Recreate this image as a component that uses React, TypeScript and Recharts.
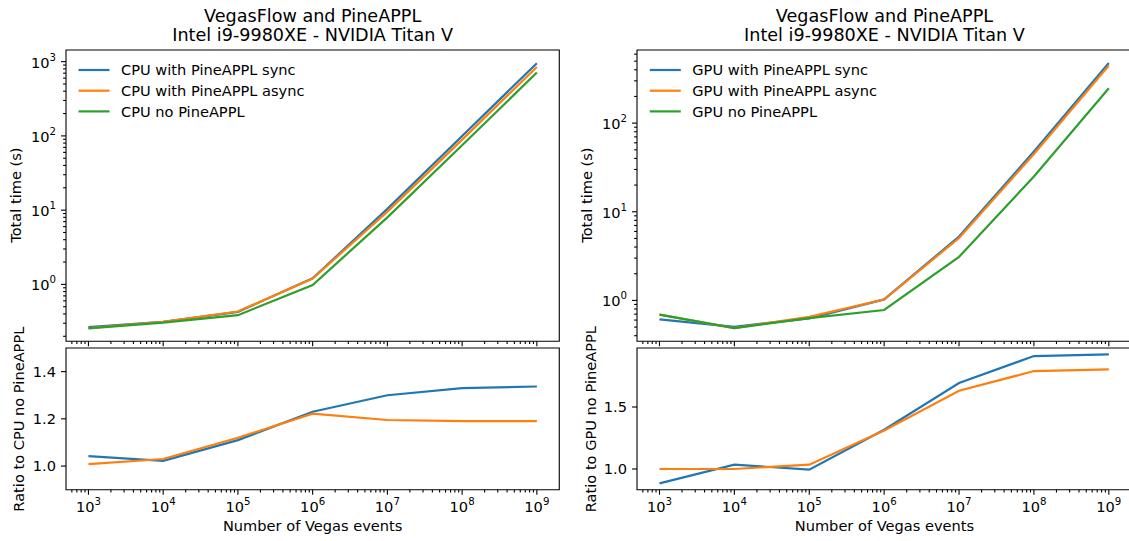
import React from 'react'
import { LineChart, Line, XAxis, YAxis, ReferenceArea } from 'recharts'

const FONT = '"DejaVu Sans", Verdana, sans-serif'
const BLUE = '#1f77b4'
const ORANGE = '#ff7f0e'
const GREEN = '#2ca02c'

// number of Vegas events (x)
const events = [1e3, 1e4, 1e5, 1e6, 1e7, 1e8, 1e9]

// CPU, total time in seconds
const cpuSync = [0.266, 0.312, 0.427, 1.205, 10.4, 99.7, 953]
const cpuAsync = [0.257, 0.314, 0.431, 1.198, 9.56, 89.2, 848]
const cpuNone = [0.255, 0.305, 0.385, 0.98, 8.0, 75, 713]
// CPU, ratio to no PineAPPL
const cpuRatioSync = [1.042, 1.022, 1.11, 1.23, 1.3, 1.33, 1.337]
const cpuRatioAsync = [1.008, 1.03, 1.12, 1.222, 1.195, 1.19, 1.19]

// GPU, total time in seconds
const gpuSync = [0.61, 0.504, 0.627, 1.027, 5.25, 47.8, 477]
const gpuAsync = [0.69, 0.487, 0.652, 1.022, 5.06, 44.8, 447]
const gpuNone = [0.69, 0.487, 0.63, 0.78, 3.1, 25, 248]
// GPU, ratio to no PineAPPL
const gpuRatioSync = [0.884, 1.035, 0.995, 1.317, 1.694, 1.911, 1.924]
const gpuRatioAsync = [1.0, 1.0, 1.035, 1.31, 1.631, 1.79, 1.803]

const cpuLabels = ['CPU with PineAPPL sync', 'CPU with PineAPPL async', 'CPU no PineAPPL']
const gpuLabels = ['GPU with PineAPPL sync', 'GPU with PineAPPL async', 'GPU no PineAPPL']
const cpuRatioTicks = [1.0, 1.2, 1.4]
const gpuRatioTicks = [1.0, 1.5]

const X_DOMAIN: [number, number] = [Math.pow(10, 2.7), Math.pow(10, 9.3)]
const CPU_TIME_DOMAIN: [number, number] = [Math.pow(10, -0.765), Math.pow(10, 3.157)]
const GPU_TIME_DOMAIN: [number, number] = [Math.pow(10, -0.46), Math.pow(10, 2.825)]
const CPU_RATIO_DOMAIN: [number, number] = [0.9, 1.5]
const GPU_RATIO_DOMAIN: [number, number] = [0.833, 1.976]

// log axis ticks: decades plus 2..9 minors inside the domain
function logTicks([lo, hi]: [number, number]) {
  const out: number[] = []
  for (let e = Math.floor(Math.log10(lo)); e <= Math.ceil(Math.log10(hi)); e++) {
    for (let m = 1; m <= 9; m++) {
      const v = m * Math.pow(10, e)
      if (v >= lo && v <= hi) out.push(v)
    }
  }
  return out
}
const isDecade = (v: number) => Math.abs(Math.log10(v) - Math.round(Math.log10(v))) < 1e-6

const FS = 14.6
const SUP = 10.2
const SW = 1.1

const timeRows = (a: number[], b: number[], c: number[]) =>
  events.map((n, i) => ({ n, sync: a[i], async: b[i], none: c[i] }))
const ratioRows = (a: number[], b: number[]) => events.map((n, i) => ({ n, sync: a[i], async: b[i] }))

const cpuTime = timeRows(cpuSync, cpuAsync, cpuNone)
const gpuTime = timeRows(gpuSync, gpuAsync, gpuNone)
const cpuRatio = ratioRows(cpuRatioSync, cpuRatioAsync)
const gpuRatio = ratioRows(gpuRatioSync, gpuRatioAsync)

type Frame = { x0: number; x1: number; y0: number; y1: number }

const LEFT_X = { x0: 66, x1: 559.3 }
const RIGHT_X = { x0: 637.3, x1: 1131.6 }
const TOP_Y = { y0: 49.5, y1: 340.7 }
const BOT_Y = { y0: 348.3, y1: 490 }

function XTick(props: any) {
  const { x, y, payload, showLabel } = props
  const v = payload.value
  const major = isDecade(v)
  return (
    <g>
      <line x1={x} x2={x} y1={y} y2={y + (major ? 5 : 2.9)} stroke="#000" strokeWidth={SW} />
      {major && showLabel && (
        <text x={x} y={y + 22.5} textAnchor="middle" fontSize={FS} fontFamily={FONT} fill="#000">
          10
          <tspan dy={-7} fontSize={SUP}>
            {Math.round(Math.log10(v))}
          </tspan>
        </text>
      )}
    </g>
  )
}

function YLogTick(props: any) {
  const { x, y, payload } = props
  const v = payload.value
  const major = isDecade(v)
  return (
    <g>
      <line x1={x} x2={x - (major ? 5 : 2.9)} y1={y} y2={y} stroke="#000" strokeWidth={SW} />
      {major && (
        <text x={x - 10} y={y + 6} textAnchor="end" fontSize={FS} fontFamily={FONT} fill="#000">
          10
          <tspan dy={-7} fontSize={SUP}>
            {Math.round(Math.log10(v))}
          </tspan>
        </text>
      )}
    </g>
  )
}

function YLinTick(props: any) {
  const { x, y, payload } = props
  return (
    <g>
      <line x1={x} x2={x - 5} y1={y} y2={y} stroke="#000" strokeWidth={SW} />
      <text x={x - 10} y={y + 5.2} textAnchor="end" fontSize={FS} fontFamily={FONT} fill="#000">
        {payload.value.toFixed(1)}
      </text>
    </g>
  )
}

interface PanelProps {
  frame: Frame
  data: any[]
  keys: { key: string; color: string }[]
  log: boolean
  yDomain: [number, number]
  yTicks: number[]
  showXLabels: boolean
}

function Panel({ frame, data, keys, log, yDomain, yTicks, showXLabels }: PanelProps) {
  const AXW = 70
  const PAD = 6
  const AXH = showXLabels ? 34 : 10
  const w = frame.x1 - frame.x0
  const h = frame.y1 - frame.y0
  return (
    <div style={{ position: 'absolute', left: frame.x0 - AXW, top: frame.y0 - PAD }}>
      <LineChart
        width={w + AXW + PAD}
        height={h + PAD + AXH}
        data={data}
        margin={{ top: PAD, right: PAD, bottom: 0, left: 0 }}
      >
        <XAxis
          dataKey="n"
          type="number"
          scale="log"
          domain={X_DOMAIN}
          allowDataOverflow
          ticks={logTicks(X_DOMAIN)}
          interval={0}
          tickSize={0}
          tickMargin={0}
          axisLine={false}
          tickLine={false}
          height={AXH}
          tick={(p: any) => <XTick {...p} showLabel={showXLabels} />}
        />
        <YAxis
          type="number"
          scale={log ? 'log' : 'linear'}
          domain={yDomain}
          allowDataOverflow
          ticks={yTicks}
          interval={0}
          tickSize={0}
          tickMargin={0}
          axisLine={false}
          tickLine={false}
          width={AXW}
          tick={(p: any) => (log ? <YLogTick {...p} /> : <YLinTick {...p} />)}
        />
        <ReferenceArea
          x1={X_DOMAIN[0]}
          x2={X_DOMAIN[1]}
          y1={yDomain[0]}
          y2={yDomain[1]}
          fill="none"
          fillOpacity={0}
          stroke="#000"
          strokeWidth={SW}
          ifOverflow="visible"
        />
        {keys.map((k) => (
          <Line
            key={k.key}
            dataKey={k.key}
            type="linear"
            stroke={k.color}
            strokeWidth={2.2}
            dot={false}
            isAnimationActive={false}
          />
        ))}
      </LineChart>
    </div>
  )
}

const timeKeys = [
  { key: 'sync', color: BLUE },
  { key: 'async', color: ORANGE },
  { key: 'none', color: GREEN },
]
const ratioKeys = [
  { key: 'sync', color: BLUE },
  { key: 'async', color: ORANGE },
]

function Legend({ x0, labels }: { x0: number; labels: string[] }) {
  const colors = [BLUE, ORANGE, GREEN]
  const rows = [70, 90.7, 111.4]
  return (
    <g>
      {labels.map((l, i) => (
        <g key={l}>
          <line x1={x0 + 12.5} x2={x0 + 43.5} y1={rows[i]} y2={rows[i]} stroke={colors[i]} strokeWidth={2.2} />
          <text x={x0 + 55} y={rows[i] + 5.3} fontSize={FS} fontFamily={FONT} fill="#000">
            {l}
          </text>
        </g>
      ))}
    </g>
  )
}

function Texts() {
  const cL = (LEFT_X.x0 + LEFT_X.x1) / 2
  const cR = (RIGHT_X.x0 + RIGHT_X.x1) / 2
  const cTop = (TOP_Y.y0 + TOP_Y.y1) / 2
  const cBot = (BOT_Y.y0 + BOT_Y.y1) / 2
  const title = (cx: number) => (
    <g fontSize={17.6} fontFamily={FONT} fill="#000" textAnchor="middle">
      <text x={cx} y={22}>VegasFlow and PineAPPL</text>
      <text x={cx} y={41}>Intel i9-9980XE - NVIDIA Titan V</text>
    </g>
  )
  const ylab = (x: number, y: number, s: string) => (
    <text
      x={x}
      y={y}
      transform={`rotate(-90 ${x} ${y})`}
      textAnchor="middle"
      fontSize={FS}
      fontFamily={FONT}
      fill="#000"
    >
      {s}
    </text>
  )
  return (
    <svg
      width={1129}
      height={541}
      style={{ position: 'absolute', left: 0, top: 0, pointerEvents: 'none' }}
    >
      {title(cL)}
      {title(cR)}
      {ylab(21, cTop, 'Total time (s)')}
      {ylab(24.5, cBot, 'Ratio to CPU no PineAPPL')}
      {ylab(592.5, cTop, 'Total time (s)')}
      {ylab(596, cBot, 'Ratio to GPU no PineAPPL')}
      <text x={cL} y={531} textAnchor="middle" fontSize={FS} fontFamily={FONT} fill="#000">
        Number of Vegas events
      </text>
      <text x={cR} y={531} textAnchor="middle" fontSize={FS} fontFamily={FONT} fill="#000">
        Number of Vegas events
      </text>
      <Legend x0={LEFT_X.x0} labels={cpuLabels} />
      <Legend x0={RIGHT_X.x0} labels={gpuLabels} />
    </svg>
  )
}

export default function App() {
  return (
    <div
      style={{
        position: 'absolute',
        left: 0,
        top: 0,
        width: 1129,
        height: 541,
        overflow: 'hidden',
        background: '#fff',
      }}
    >
      <Panel
        frame={{ ...LEFT_X, ...TOP_Y }}
        data={cpuTime}
        keys={timeKeys}
        log
        yDomain={CPU_TIME_DOMAIN}
        yTicks={logTicks(CPU_TIME_DOMAIN)}
        showXLabels={false}
      />
      <Panel
        frame={{ ...LEFT_X, ...BOT_Y }}
        data={cpuRatio}
        keys={ratioKeys}
        log={false}
        yDomain={CPU_RATIO_DOMAIN}
        yTicks={cpuRatioTicks}
        showXLabels
      />
      <Panel
        frame={{ ...RIGHT_X, ...TOP_Y }}
        data={gpuTime}
        keys={timeKeys}
        log
        yDomain={GPU_TIME_DOMAIN}
        yTicks={logTicks(GPU_TIME_DOMAIN)}
        showXLabels={false}
      />
      <Panel
        frame={{ ...RIGHT_X, ...BOT_Y }}
        data={gpuRatio}
        keys={ratioKeys}
        log={false}
        yDomain={GPU_RATIO_DOMAIN}
        yTicks={gpuRatioTicks}
        showXLabels
      />
      <Texts />
    </div>
  )
}
